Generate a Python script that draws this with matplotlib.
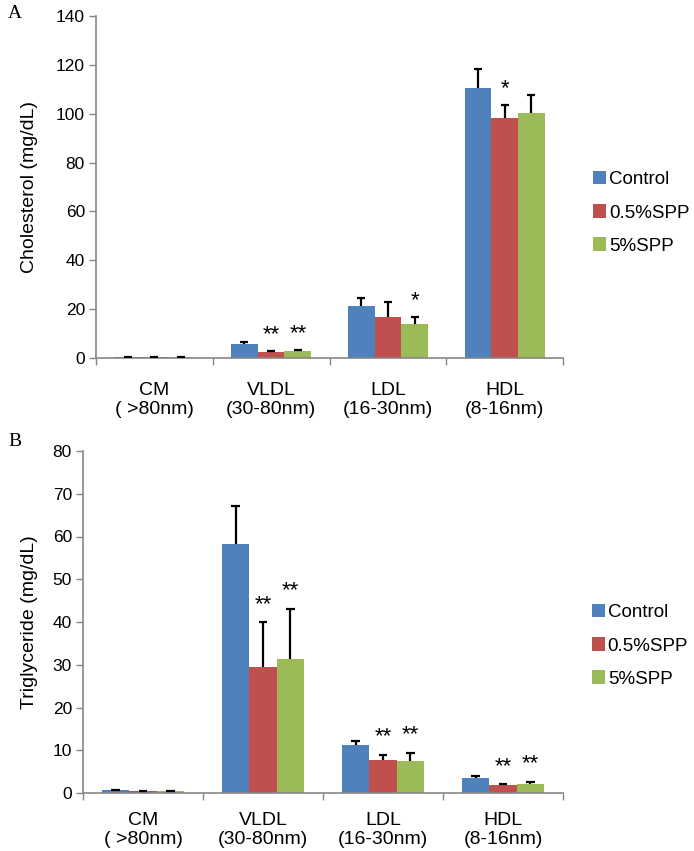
import matplotlib
matplotlib.use("Agg")
import matplotlib.pyplot as plt
import numpy as np

plt.rcParams['font.family'] = ['Liberation Sans', 'DejaVu Sans']

categories = ["CM\n( >80nm)", "VLDL\n(30-80nm)", "LDL\n(16-30nm)", "HDL\n(8-16nm)"]
series_names = ["Control", "0.5%SPP", "5%SPP"]
colors = ["#4F81BD", "#C0504D", "#9BBB59"]

# Panel A: cholesterol (mg/dL)
chol_control = [0.5, 5.9, 21.3, 110.6]
chol_05 = [0.5, 2.4, 16.9, 98.2]
chol_5 = [0.4, 2.7, 13.8, 100.2]
chol_control_sd = [0.1, 0.6, 3.4, 7.8]
chol_05_sd = [0.1, 0.6, 6.0, 5.4]
chol_5_sd = [0.1, 0.7, 3.1, 7.4]
chol_stars = [["", "", ""], ["", "**", "**"], ["", "", "*"], ["", "*", ""]]

# Panel B: triglyceride (mg/dL)
tg_control = [0.7, 58.2, 11.3, 3.4]
tg_05 = [0.4, 29.5, 7.7, 1.8]
tg_5 = [0.4, 31.3, 7.4, 2.1]
tg_control_sd = [0.1, 9.0, 0.8, 0.6]
tg_05_sd = [0.1, 10.4, 1.3, 0.2]
tg_5_sd = [0.1, 11.8, 2.0, 0.5]
tg_stars = [["", "", ""], ["", "**", "**"], ["", "**", "**"], ["", "**", "**"]]

fig = plt.figure(figsize=(6.94, 8.51), dpi=100)
axA = fig.add_axes([96/694, (851-358)/851, 467/694, 342/851])
axB = fig.add_axes([83/694, (851-793)/851, 480/694, 342/851])

spine_c = "#868686"
bw = 0.229
cap = 0.034


def draw(ax, vals, sds, stars, ymax, ystep, ylabel, star_off, leg_anchor, xpad):
    x = np.arange(len(categories)) + 0.5
    for i, (v, s, c, name) in enumerate(zip(vals, sds, colors, series_names)):
        xs = x + (i - 1) * bw
        v = np.asarray(v)
        s = np.asarray(s)
        ax.bar(xs, v, width=bw, color=c, label=name, zorder=2)
        ax.vlines(xs, v, v + s, color='black', linewidth=1.6, zorder=3)
        ax.hlines(v + s, xs - cap, xs + cap, color='black', linewidth=1.6, zorder=3)
        for j in range(len(categories)):
            st = stars[j][i]
            if st:
                ax.annotate(st, (xs[j], v[j] + s[j]), xytext=(0, star_off),
                            textcoords='offset pixels', ha='center', va='center',
                            fontsize=16)
    ax.set_xlim(0, len(categories))
    ax.set_ylim(0, ymax)
    ax.set_yticks(np.arange(0, ymax + 1, ystep))
    ax.set_xticks(np.arange(0, len(categories) + 1))
    ax.set_xticklabels([])
    ax.set_xticks(x, minor=True)
    ax.set_xticklabels(categories, minor=True, fontsize=14, linespacing=1.15)
    ax.tick_params(axis='x', which='minor', length=0, pad=xpad)
    ax.tick_params(axis='x', which='major', length=5, color=spine_c, width=1, direction='out')
    ax.tick_params(axis='y', length=5, color=spine_c, width=1, direction='out', labelsize=12.5, pad=3)
    for side in ['top', 'right']:
        ax.spines[side].set_visible(False)
    for side in ['left', 'bottom']:
        ax.spines[side].set_color(spine_c)
        ax.spines[side].set_linewidth(1.2)
    ax.set_ylabel(ylabel, fontsize=14)
    ax.legend(loc='center left', bbox_to_anchor=leg_anchor, frameon=False,
              fontsize=13.5, handlelength=0.7, handleheight=0.7, handletextpad=0.15,
              labelspacing=0.85, borderpad=0, borderaxespad=0)


draw(axA, [chol_control, chol_05, chol_5], [chol_control_sd, chol_05_sd, chol_5_sd],
     chol_stars, 140, 20, "Cholesterol (mg/dL)", 16, (1.064, 0.424), 17)
draw(axB, [tg_control, tg_05, tg_5], [tg_control_sd, tg_05_sd, tg_5_sd],
     tg_stars, 80, 10, "Triglyceride (mg/dL)", 18, (1.060, 0.43), 13.5)

axA.yaxis.set_label_coords(-0.124, 0.5)
axB.yaxis.set_label_coords(-0.094, 0.5)

fig.text(8/694, 1 - 14/851, "A", family=['Liberation Serif', 'DejaVu Serif'], fontsize=14, va='center')
fig.text(8/694, 1 - 441/851, "B", family=['Liberation Serif', 'DejaVu Serif'], fontsize=14, va='center')

fig.savefig("out.png", dpi=100)
